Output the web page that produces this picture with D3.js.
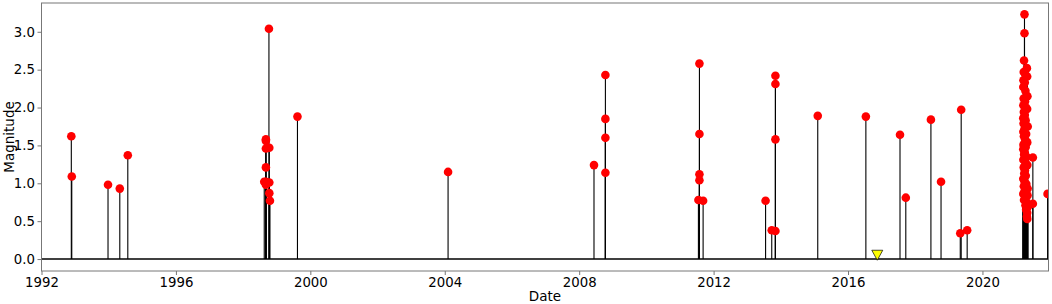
<!DOCTYPE html>
<html>
<head>
<meta charset="utf-8">
<script src="https://cdn.jsdelivr.net/npm/d3@7/dist/d3.min.js"></script>
<style>
  html, body { margin: 0; padding: 0; background: #fff; }
  svg { display: block; font-family: "DejaVu Sans", sans-serif; }
</style>
</head>
<body>
<svg id="chart" width="1052" height="304"></svg>
<script>
// ---- Data ----
const eventDates = [
  "1992-11-20","1992-11-25","1993-12-24","1994-05-01","1994-07-27",
  "1998-08-18","1998-09-05","1998-09-05","1998-09-05","1998-09-05","1998-09-05","1998-09-05",
  "1998-10-08","1998-10-12","1998-10-12","1998-10-12","1998-10-19",
  "1999-08-14","2004-02-06",
  "2008-06-10","2008-10-12","2008-10-12","2008-10-12","2008-10-12",
  "2011-07-31","2011-07-31","2011-07-31","2011-07-31","2011-07-20","2011-09-09",
  "2013-07-19","2013-09-24","2013-11-03","2013-11-03","2013-11-03","2013-11-03",
  "2015-02-06","2016-07-13",
  "2017-07-19","2017-09-20","2018-06-20","2018-10-08",
  "2019-05-15","2019-05-05","2019-07-19",
  // 2021 swarm
  "2021-04-02","2021-04-02","2021-03-28","2021-03-25","2021-04-28","2021-04-10","2021-05-01",
  "2021-03-22","2021-04-05","2021-03-20","2021-04-12","2021-05-04","2021-03-24","2021-04-08",
  "2021-03-21","2021-04-18","2021-05-01","2021-03-26","2021-04-06","2021-03-20","2021-04-14",
  "2021-03-23","2021-05-07","2021-04-03","2021-03-21","2021-04-20","2021-03-27","2021-04-09",
  "2021-05-02","2021-03-22","2021-04-15","2021-03-20","2021-04-04","2021-03-29","2021-04-24",
  "2021-03-21","2021-04-11","2021-05-03","2021-03-25","2021-04-07","2021-03-30","2021-04-16",
  "2021-03-20","2021-04-01","2021-04-22","2021-03-26","2021-05-06","2021-04-05","2021-03-20",
  "2021-05-05","2021-04-10","2021-03-28","2021-04-26","2021-04-13","2021-05-09","2021-04-20",
  "2021-05-01","2021-04-28","2021-05-02",
  "2021-07-02","2021-07-02","2021-12-09"
];
const magnitudes = [
  1.62,1.09,0.98,0.93,1.37,
  1.02,1.58,1.56,1.46,1.21,0.98,1.02,
  3.04,1.47,1.01,0.87,0.77,
  1.88,1.15,
  1.24,2.43,1.85,1.60,1.14,
  2.58,1.65,1.12,1.04,0.78,0.77,
  0.77,0.38,2.42,2.31,1.58,0.37,
  1.89,1.88,
  1.64,0.81,1.84,1.02,
  1.97,0.34,0.38,
  3.23,2.98,2.62,2.47,2.52,2.44,2.41,
  2.36,2.33,2.27,2.22,2.15,2.12,2.08,
  2.03,2.00,1.98,1.94,1.90,1.86,1.83,
  1.79,1.75,1.72,1.68,1.65,1.62,1.58,
  1.54,1.51,1.48,1.45,1.41,1.38,1.35,
  1.31,1.28,1.24,1.21,1.17,1.13,1.10,
  1.06,1.03,0.99,0.96,0.93,0.90,0.86,
  0.84,0.81,0.78,0.75,0.71,0.69,0.65,
  0.61,0.56,0.53,
  1.34,0.73,0.86
];
// separate marker (yellow down-triangle)
const triangleDates = ["2016-11-14"];
const triangleValues = [0.05];

const xDomain = ["1992-01-01", "2021-12-19"];
const yDomain = [-0.158, 3.38];
const yTicks = [0.0, 0.5, 1.0, 1.5, 2.0, 2.5, 3.0];
const xLabel = "Date";
const yLabel = "Magnitude";

// ---- Chart ----
const parse = d3.timeParse("%Y-%m-%d");
const W = 1052, H = 304;
const m = { left: 41.5, right: 3.5, top: 3, bottom: 33 };
const svg = d3.select("#chart");

const x = d3.scaleTime()
  .domain(xDomain.map(parse))
  .range([m.left, W - m.right]);
const y = d3.scaleLinear()
  .domain(yDomain)
  .range([H - m.bottom, m.top]);

const events = eventDates.map((d, i) => ({ date: parse(d), mag: magnitudes[i] }));
const tris = triangleDates.map((d, i) => ({ date: parse(d), mag: triangleValues[i] }));

const clipId = "plotclip";
svg.append("defs").append("clipPath").attr("id", clipId)
  .append("rect")
  .attr("x", m.left).attr("y", m.top)
  .attr("width", W - m.left - m.right).attr("height", H - m.top - m.bottom);

const plot = svg.append("g").attr("clip-path", `url(#${clipId})`);

// stems
plot.append("g").selectAll("line").data(events).join("line")
  .attr("x1", d => x(d.date)).attr("x2", d => x(d.date))
  .attr("y1", y(0)).attr("y2", d => y(d.mag))
  .attr("stroke", "#000").attr("stroke-width", 1.1);

// baseline
plot.append("line")
  .attr("x1", m.left).attr("x2", W - m.right)
  .attr("y1", y(0)).attr("y2", y(0))
  .attr("stroke", "#000").attr("stroke-width", 1.4);

// markers
plot.append("g").selectAll("circle").data(events).join("circle")
  .attr("cx", d => x(d.date)).attr("cy", d => y(d.mag))
  .attr("r", 4.3).attr("fill", "#ff0000");

// triangle marker
plot.append("g").selectAll("path").data(tris).join("path")
  .attr("transform", d => `translate(${x(d.date)},${y(d.mag)})`)
  .attr("d", "M-5.5,-5 L5.5,-5 L0,5 Z")
  .attr("fill", "#ffff00").attr("stroke", "#000").attr("stroke-width", 0.7);

// axes
const xAxis = d3.axisBottom(x)
  .ticks(d3.timeYear.every(4))
  .tickFormat(d3.timeFormat("%Y"))
  .tickSize(4).tickPadding(3);
const yAxis = d3.axisLeft(y)
  .tickValues(yTicks)
  .tickFormat(d3.format(".1f"))
  .tickSize(4).tickPadding(2.5);

const gx = svg.append("g").attr("transform", `translate(0,${H - m.bottom})`).call(xAxis);
const gy = svg.append("g").attr("transform", `translate(${m.left},0)`).call(yAxis);
[gx, gy].forEach(g => {
  g.select(".domain").remove();
  g.selectAll(".tick line").attr("stroke", "#666").attr("stroke-width", 0.9);
  g.selectAll(".tick text").attr("fill", "#000").style("font-size", "13.3px")
    .style("font-family", "'DejaVu Sans', sans-serif");
});

// frame
svg.append("rect")
  .attr("x", m.left).attr("y", m.top)
  .attr("width", W - m.left - m.right).attr("height", H - m.top - m.bottom)
  .attr("fill", "none").attr("stroke", "#777").attr("stroke-width", 1);

// labels
svg.append("text")
  .attr("x", (m.left + W - m.right) / 2).attr("y", 301)
  .attr("text-anchor", "middle").style("font-size", "13.5px")
  .text(xLabel);
svg.append("text")
  .attr("transform", `translate(14,${(m.top + H - m.bottom) / 2}) rotate(-90)`)
  .attr("text-anchor", "middle").style("font-size", "13.5px")
  .text(yLabel);
</script>
</body>
</html>
